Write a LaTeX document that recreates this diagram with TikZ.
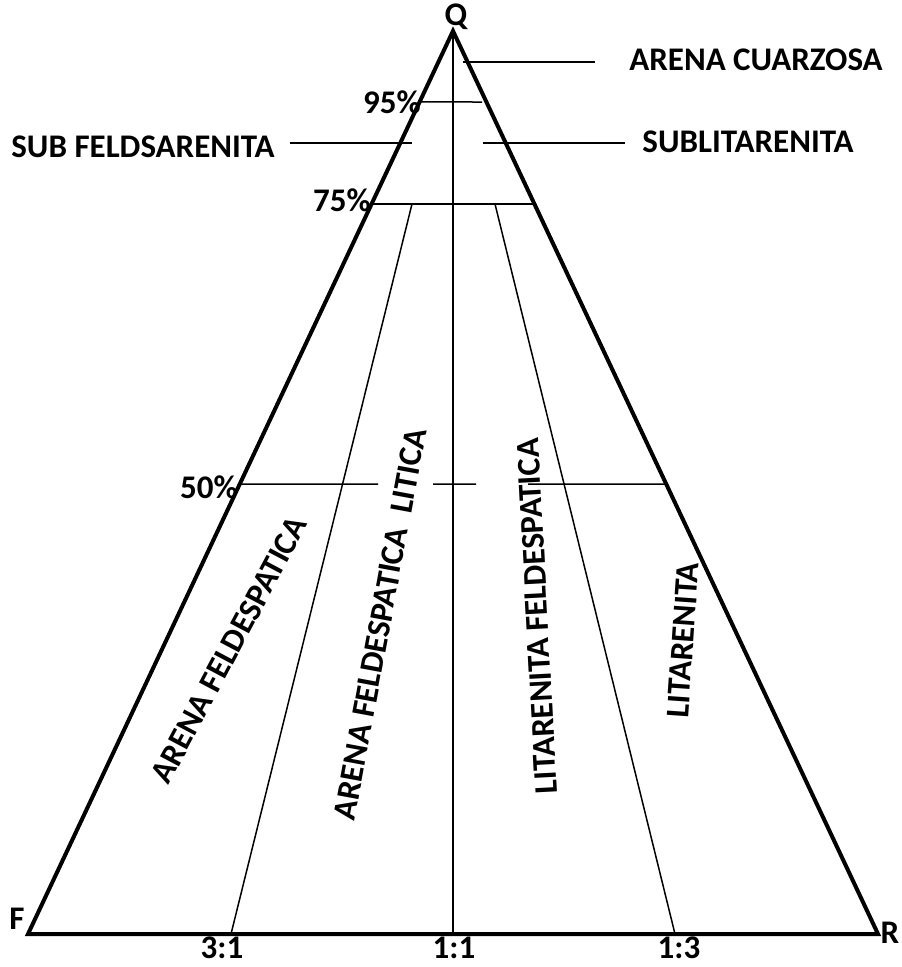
\documentclass[tikz,border=0pt]{standalone}
\usepackage{fontspec}
\setmainfont{Carlito}
\usetikzlibrary{calc}

\begin{document}
\begin{tikzpicture}[x=1pt,y=-1pt,
  lbl/.style={font=\fontsize{33}{38}\selectfont\bfseries,inner sep=0pt},
  side/.style={line width=4pt,line join=miter},
  fine/.style={line width=1.5pt}]
  \useasboundingbox (0,0) rectangle (902,967);
  % corners of the triangle
  \coordinate (Q) at (453,31);
  \coordinate (F) at (28,934);
  \coordinate (R) at (878,934);
  \coordinate (M) at (453,934);
  \draw[side] (Q) -- (F) -- (R) -- cycle;
  \draw[fine] (Q) -- (M);
  % level lines
  \coordinate (l95) at ($(Q)!0.0786!(F)$);
  \coordinate (r95) at (482,102);
  \coordinate (l75) at ($(Q)!0.1916!(F)$);
  \coordinate (r75) at ($(Q)!0.1916!(R)$);
  \coordinate (l50) at ($(Q)!0.5017!(F)$);
  \coordinate (r50) at ($(Q)!0.5017!(R)$);
  \draw[fine] (l95) -- (r95);
  \draw[fine] (l75) -- (r75);
  \draw[fine] (l50) -- (378,484) (433,484) -- (476,484) (528,484) -- (r50);
  % ratio lines
  \coordinate (a75) at (412,204);
  \coordinate (a31) at (231,934);
  \coordinate (b75) at (495,204);
  \coordinate (b13) at (675,934);
  \draw[fine] (a75) -- (a31);
  \draw[fine] (b75) -- (b13);
  % corner and base labels
  \node[lbl] (q) at (456,17) {Q};
  \node[lbl] (f) at (17,919) {F};
  \node[lbl] (r) at (890,933) {R};
  \node[lbl] (t31) at (222,948) {3:1};
  \node[lbl] (t11) at (454,948) {1:1};
  \node[lbl] (t13) at (679,948) {1:3};
  \node[lbl] (p95) at (392,102) {95\%};
  \node[lbl] (p75) at (342,200) {75\%};
  \node[lbl] (p50) at (209,487) {50\%};
  % names of the fields
  \node[lbl] (cuarzosa) at (756,60) {ARENA CUARZOSA};
  \node[lbl] (subfeld) at (143,147) {SUB FELDSARENITA};
  \node[lbl] (sublit) at (748,142) {SUBLITARENITA};
  \draw[fine] (463,62) -- (595,62);
  \draw[fine] (290,143) -- (412,143);
  \draw[fine] (483,143) -- (625,143);
  \node[lbl,rotate=62] (afeld) at (229,650) {ARENA FELDESPATICA};
  \node[lbl,rotate=79.5] (afeldlit) at (380,624) {ARENA FELDESPATICA\ \ LITICA};
  \node[lbl,rotate=93] (litfeld) at (537,616) {LITARENITA FELDESPATICA};
  \node[lbl,rotate=86] (lit) at (683,640) {LITARENITA};
\end{tikzpicture}
\end{document}
